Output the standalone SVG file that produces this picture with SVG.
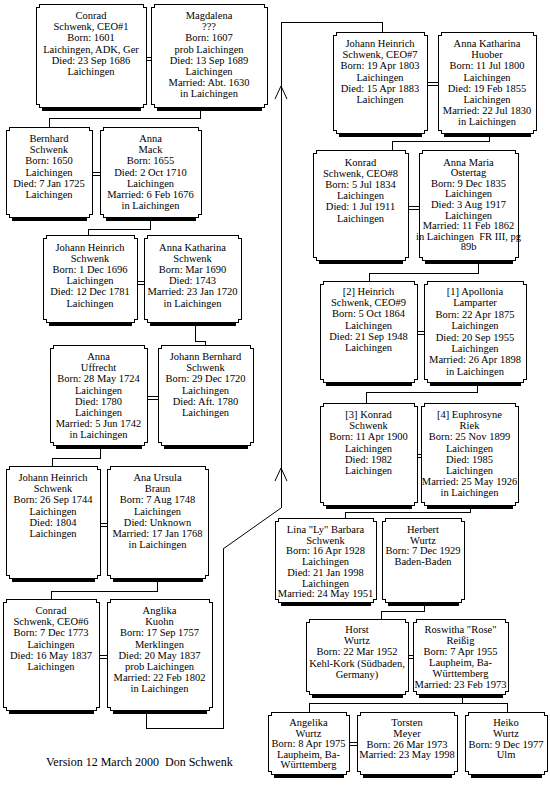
<svg xmlns="http://www.w3.org/2000/svg" width="550" height="810" viewBox="0 0 550 810">
<style>
.bx{fill:#fff;stroke:#000;stroke-width:1;shape-rendering:crispEdges}
.sh{fill:#000;shape-rendering:crispEdges}
.ln{fill:none;stroke:#000;stroke-width:1;shape-rendering:crispEdges}
.ar{fill:none;stroke:#000;stroke-width:1}
text{font-family:"Liberation Serif","Times New Roman",serif;font-size:10.5px;fill:#000;text-anchor:middle}
.ver{font-size:12px;text-anchor:start}
</style>
<rect width="550" height="810" fill="#fff"/>
<g id="connectors">
<path class="ln" d="M200 107V118H49V127"/>
<path class="ln" d="M150 217V229H88V235"/>
<path class="ln" d="M195 322V341H205V345"/>
<path class="ln" d="M100 445V458H52V466"/>
<path class="ln" d="M157 578V591H51V599"/>
<path class="ln" d="M146 710V728H223V549"/>
<path class="ar" d="M223 549L281 508"/>
<path class="ln" d="M281 508V22H382V32"/>
<path class="ar" d="M275 99L281 86L287 99M275 481L281 468L287 481"/>
<path class="ln" d="M489 133V141H392V150"/>
<path class="ln" d="M478 260V273H369V281"/>
<path class="ln" d="M477 382V392H366V403"/>
<path class="ln" d="M470 505V512H345V518"/>
<path class="ln" d="M424 602V611H381V619"/>
<path class="ln" d="M462 694V703M309 712V703H507V712"/>
<path class="ln" d="M146 57H151M146 60H151M92 172H100M92 175H100M137 281H144M137 284H144M147 396H158M147 399H158M100 523H107M100 526H107M99 655H107M99 658H107M427 82H438M427 85H438M408 206H419M408 209H419M417 331H424M417 334H424M417 454H421M417 457H421M408 655H413M408 658H413M349 742H357M349 745H357"/>
</g>
<g id="n1"><rect class="sh" x="42" y="107" width="99" height="4"/><path class="bx" d="M39 4H143V7H146V104H143V107H39V104H36V7H39Z"/>
<text x="91" y="19"><tspan x="91">Conrad</tspan><tspan x="91" dy="11.2">Schwenk, CEO#1</tspan><tspan x="91" dy="11.2">Born: 1601</tspan><tspan x="91" dy="11.2">Laichingen, ADK, Ger</tspan><tspan x="91" dy="11.2">Died: 23 Sep 1686</tspan><tspan x="91" dy="11.2">Laichingen</tspan></text></g>
<g id="n2"><rect class="sh" x="157" y="107" width="105" height="4"/><path class="bx" d="M154 4H264V7H267V104H264V107H154V104H151V7H154Z"/>
<text x="209" y="19"><tspan x="209">Magdalena</tspan><tspan x="209" dy="11.2">???</tspan><tspan x="209" dy="11.2">Born: 1607</tspan><tspan x="209" dy="11.2">prob Laichingen</tspan><tspan x="209" dy="11.2">Died: 13 Sep 1689</tspan><tspan x="209" dy="11.2">Laichingen</tspan><tspan x="209" dy="11.2">Married: Abt. 1630</tspan><tspan x="209" dy="11.2">in Laichingen</tspan></text></g>
<g id="n3"><rect class="sh" x="12" y="217" width="75" height="4"/><path class="bx" d="M9 127H89V130H92V214H89V217H9V214H6V130H9Z"/>
<text x="49" y="142"><tspan x="49">Bernhard</tspan><tspan x="49" dy="11.2">Schwenk</tspan><tspan x="49" dy="11.2">Born: 1650</tspan><tspan x="49" dy="11.2">Laichingen</tspan><tspan x="49" dy="11.2">Died: 7 Jan 1725</tspan><tspan x="49" dy="11.2">Laichingen</tspan></text></g>
<g id="n4"><rect class="sh" x="106" y="217" width="90" height="4"/><path class="bx" d="M103 127H198V130H201V214H198V217H103V214H100V130H103Z"/>
<text x="150.5" y="142"><tspan x="150.5">Anna</tspan><tspan x="150.5" dy="11.2">Mack</tspan><tspan x="150.5" dy="11.2">Born: 1655</tspan><tspan x="150.5" dy="11.2">Died: 2 Oct 1710</tspan><tspan x="150.5" dy="11.2">Laichingen</tspan><tspan x="150.5" dy="11.2">Married: 6 Feb 1676</tspan><tspan x="150.5" dy="11.2">in Laichingen</tspan></text></g>
<g id="n5"><rect class="sh" x="49" y="322" width="83" height="4"/><path class="bx" d="M46 235H134V238H137V319H134V322H46V319H43V238H46Z"/>
<text x="90" y="250.5"><tspan x="90">Johann Heinrich</tspan><tspan x="90" dy="11.2">Schwenk</tspan><tspan x="90" dy="11.2">Born: 1 Dec 1696</tspan><tspan x="90" dy="11.2">Laichingen</tspan><tspan x="90" dy="11.2">Died: 12 Dec 1781</tspan><tspan x="90" dy="11.2">Laichingen</tspan></text></g>
<g id="n6"><rect class="sh" x="150" y="322" width="86" height="4"/><path class="bx" d="M147 235H238V238H241V319H238V322H147V319H144V238H147Z"/>
<text x="192.5" y="250.5"><tspan x="192.5">Anna Katharina</tspan><tspan x="192.5" dy="11.2">Schwenk</tspan><tspan x="192.5" dy="11.2">Born: Mar 1690</tspan><tspan x="192.5" dy="11.2">Died: 1743</tspan><tspan x="192.5" dy="11.2">Married: 23 Jan 1720</tspan><tspan x="192.5" dy="11.2">in Laichingen</tspan></text></g>
<g id="n7"><rect class="sh" x="56" y="445" width="86" height="4"/><path class="bx" d="M53 345H144V348H147V442H144V445H53V442H50V348H53Z"/>
<text x="98.5" y="360"><tspan x="98.5">Anna</tspan><tspan x="98.5" dy="11.2">Uffrecht</tspan><tspan x="98.5" dy="11.2">Born: 28 May 1724</tspan><tspan x="98.5" dy="11.2">Laichingen</tspan><tspan x="98.5" dy="11.2">Died: 1780</tspan><tspan x="98.5" dy="11.2">Laichingen</tspan><tspan x="98.5" dy="11.2">Married: 5 Jun 1742</tspan><tspan x="98.5" dy="11.2">in Laichingen</tspan></text></g>
<g id="n8"><rect class="sh" x="164" y="445" width="84" height="4"/><path class="bx" d="M161 345H250V348H253V442H250V445H161V442H158V348H161Z"/>
<text x="205.5" y="360"><tspan x="205.5">Johann Bernhard</tspan><tspan x="205.5" dy="11.2">Schwenk</tspan><tspan x="205.5" dy="11.2">Born: 29 Dec 1720</tspan><tspan x="205.5" dy="11.2">Laichingen</tspan><tspan x="205.5" dy="11.2">Died: Aft. 1780</tspan><tspan x="205.5" dy="11.2">Laichingen</tspan></text></g>
<g id="n9"><rect class="sh" x="12" y="578" width="83" height="4"/><path class="bx" d="M9 466H97V469H100V575H97V578H9V575H6V469H9Z"/>
<text x="53" y="481"><tspan x="53">Johann Heinrich</tspan><tspan x="53" dy="11.2">Schwenk</tspan><tspan x="53" dy="11.2">Born: 26 Sep 1744</tspan><tspan x="53" dy="11.2">Laichingen</tspan><tspan x="53" dy="11.2">Died: 1804</tspan><tspan x="53" dy="11.2">Laichingen</tspan></text></g>
<g id="n10"><rect class="sh" x="113" y="578" width="90" height="4"/><path class="bx" d="M110 466H205V469H208V575H205V578H110V575H107V469H110Z"/>
<text x="157.5" y="481"><tspan x="157.5">Ana Ursula</tspan><tspan x="157.5" dy="11.2">Braun</tspan><tspan x="157.5" dy="11.2">Born: 7 Aug 1748</tspan><tspan x="157.5" dy="11.2">Laichingen</tspan><tspan x="157.5" dy="11.2">Died: Unknown</tspan><tspan x="157.5" dy="11.2">Married: 17 Jan 1768</tspan><tspan x="157.5" dy="11.2">in Laichingen</tspan></text></g>
<g id="n11"><rect class="sh" x="9" y="710" width="85" height="4"/><path class="bx" d="M6 599H96V602H99V707H96V710H6V707H3V602H6Z"/>
<text x="51" y="614"><tspan x="51">Conrad</tspan><tspan x="51" dy="11.2">Schwenk, CEO#6</tspan><tspan x="51" dy="11.2">Born: 7 Dec 1773</tspan><tspan x="51" dy="11.2">Laichingen</tspan><tspan x="51" dy="11.2">Died: 16 May 1837</tspan><tspan x="51" dy="11.2">Laichingen</tspan></text></g>
<g id="n12"><rect class="sh" x="113" y="710" width="94" height="4"/><path class="bx" d="M110 599H209V602H212V707H209V710H110V707H107V602H110Z"/>
<text x="159.5" y="614"><tspan x="159.5">Anglika</tspan><tspan x="159.5" dy="11.2">Kuohn</tspan><tspan x="159.5" dy="11.2">Born: 17 Sep 1757</tspan><tspan x="159.5" dy="11.2">Merklingen</tspan><tspan x="159.5" dy="11.2">Died: 20 May 1837</tspan><tspan x="159.5" dy="11.2">prob Laichingen</tspan><tspan x="159.5" dy="11.2">Married: 22 Feb 1802</tspan><tspan x="159.5" dy="11.2">in Laichingen</tspan></text></g>
<g id="n13"><rect class="sh" x="339" y="133" width="83" height="4"/><path class="bx" d="M336 32H424V35H427V130H424V133H336V130H333V35H336Z"/>
<text x="380" y="47"><tspan x="380">Johann Heinrich</tspan><tspan x="380" dy="11.2">Schwenk, CEO#7</tspan><tspan x="380" dy="11.2">Born: 19 Apr 1803</tspan><tspan x="380" dy="11.2">Laichingen</tspan><tspan x="380" dy="11.2">Died: 15 Apr 1883</tspan><tspan x="380" dy="11.2">Laichingen</tspan></text></g>
<g id="n14"><rect class="sh" x="444" y="133" width="87" height="4"/><path class="bx" d="M441 32H533V35H536V130H533V133H441V130H438V35H441Z"/>
<text x="487" y="47"><tspan x="487">Anna Katharina</tspan><tspan x="487" dy="11.2">Huober</tspan><tspan x="487" dy="11.2">Born: 11 Jul 1800</tspan><tspan x="487" dy="11.2">Laichingen</tspan><tspan x="487" dy="11.2">Died: 19 Feb 1855</tspan><tspan x="487" dy="11.2">Laichingen</tspan><tspan x="487" dy="11.2">Married: 22 Jul 1830</tspan><tspan x="487" dy="11.2">in Laichingen</tspan></text></g>
<g id="n15"><rect class="sh" x="319" y="260" width="84" height="4"/><path class="bx" d="M316 150H405V153H408V257H405V260H316V257H313V153H316Z"/>
<text x="360.5" y="165.5"><tspan x="360.5">Konrad</tspan><tspan x="360.5" dy="11.2">Schwenk, CEO#8</tspan><tspan x="360.5" dy="11.2">Born: 5 Jul 1834</tspan><tspan x="360.5" dy="11.2">Laichingen</tspan><tspan x="360.5" dy="11.2">Died: 1 Jul 1911</tspan><tspan x="360.5" dy="11.2">Laichingen</tspan></text></g>
<g id="n16"><rect class="sh" x="425" y="260" width="88" height="4"/><path class="bx" d="M422 150H515V153H518V257H515V260H422V257H419V153H422Z"/>
<text x="468.5" y="165.5" xml:space="preserve"><tspan x="468.5">Anna Maria</tspan><tspan x="468.5" dy="10.6">Ostertag</tspan><tspan x="468.5" dy="10.6">Born: 9 Dec 1835</tspan><tspan x="468.5" dy="10.6">Laichingen</tspan><tspan x="468.5" dy="10.6">Died: 3 Aug 1917</tspan><tspan x="468.5" dy="10.6">Laichingen</tspan><tspan x="468.5" dy="10.6">Married: 11 Feb 1862</tspan><tspan x="468.5" dy="10.6">in Laichingen  FR III, pg</tspan><tspan x="468.5" dy="10.6">89b</tspan></text></g>
<g id="n17"><rect class="sh" x="326" y="382" width="86" height="4"/><path class="bx" d="M323 281H414V284H417V379H414V382H323V379H320V284H323Z"/>
<text x="368.5" y="295"><tspan x="368.5">[2] Heinrich</tspan><tspan x="368.5" dy="11.2">Schwenk, CEO#9</tspan><tspan x="368.5" dy="11.2">Born: 5 Oct 1864</tspan><tspan x="368.5" dy="11.2">Laichingen</tspan><tspan x="368.5" dy="11.2">Died: 21 Sep 1948</tspan><tspan x="368.5" dy="11.2">Laichingen</tspan></text></g>
<g id="n18"><rect class="sh" x="430" y="382" width="91" height="4"/><path class="bx" d="M427 281H523V284H526V379H523V382H427V379H424V284H427Z"/>
<text x="475" y="295"><tspan x="475">[1] Apollonia</tspan><tspan x="475" dy="11.4">Lamparter</tspan><tspan x="475" dy="11.4">Born: 22 Apr 1875</tspan><tspan x="475" dy="11.4">Laichingen</tspan><tspan x="475" dy="11.4">Died: 20 Sep 1955</tspan><tspan x="475" dy="11.4">Laichingen</tspan><tspan x="475" dy="11.4">Married: 26 Apr 1898</tspan><tspan x="475" dy="11.4">in Laichingen</tspan></text></g>
<g id="n19"><rect class="sh" x="326" y="505" width="86" height="4"/><path class="bx" d="M323 403H414V406H417V502H414V505H323V502H320V406H323Z"/>
<text x="368.5" y="418"><tspan x="368.5">[3] Konrad</tspan><tspan x="368.5" dy="11.2">Schwenk</tspan><tspan x="368.5" dy="11.2">Born: 11 Apr 1900</tspan><tspan x="368.5" dy="11.2">Laichingen</tspan><tspan x="368.5" dy="11.2">Died: 1982</tspan><tspan x="368.5" dy="11.2">Laichingen</tspan></text></g>
<g id="n20"><rect class="sh" x="427" y="505" width="86" height="4"/><path class="bx" d="M424 403H515V406H518V502H515V505H424V502H421V406H424Z"/>
<text x="469.5" y="418"><tspan x="469.5">[4] Euphrosyne</tspan><tspan x="469.5" dy="11.2">Riek</tspan><tspan x="469.5" dy="11.2">Born: 25 Nov 1899</tspan><tspan x="469.5" dy="11.2">Laichingen</tspan><tspan x="469.5" dy="11.2">Died: 1985</tspan><tspan x="469.5" dy="11.2">Laichingen</tspan><tspan x="469.5" dy="11.2">Married: 25 May 1926</tspan><tspan x="469.5" dy="11.2">in Laichingen</tspan></text></g>
<g id="n21"><rect class="sh" x="281" y="602" width="90" height="4"/><path class="bx" d="M278 518H373V521H376V599H373V602H278V599H275V521H278Z"/>
<text x="325.5" y="533"><tspan x="325.5">Lina "Ly" Barbara</tspan><tspan x="325.5" dy="10.7">Schwenk</tspan><tspan x="325.5" dy="10.7">Born: 16 Apr 1928</tspan><tspan x="325.5" dy="10.7">Laichingen</tspan><tspan x="325.5" dy="10.7">Died: 21 Jan 1998</tspan><tspan x="325.5" dy="10.7">Laichingen</tspan><tspan x="325.5" dy="10.7">Married: 24 May 1951</tspan></text></g>
<g id="n22"><rect class="sh" x="388" y="602" width="71" height="4"/><path class="bx" d="M385 518H461V521H464V599H461V602H385V599H382V521H385Z"/>
<text x="423" y="533"><tspan x="423">Herbert</tspan><tspan x="423" dy="10.7">Wurtz</tspan><tspan x="423" dy="10.7">Born: 7 Dec 1929</tspan><tspan x="423" dy="10.7">Baden-Baden</tspan></text></g>
<g id="n23"><rect class="sh" x="312" y="694" width="91" height="4"/><path class="bx" d="M309 619H405V622H408V691H405V694H309V691H306V622H309Z"/>
<text x="357" y="633"><tspan x="357">Horst</tspan><tspan x="357" dy="11.2">Wurtz</tspan><tspan x="357" dy="11.2">Born: 22 Mar 1952</tspan><tspan x="357" dy="11.2">Kehl-Kork (Südbaden,</tspan><tspan x="357" dy="11.2">Germany)</tspan></text></g>
<g id="n24"><rect class="sh" x="419" y="694" width="84" height="4"/><path class="bx" d="M416 619H505V622H508V691H505V694H416V691H413V622H416Z"/>
<text x="460.5" y="633"><tspan x="460.5">Roswitha "Rose"</tspan><tspan x="460.5" dy="10.9">Reißig</tspan><tspan x="460.5" dy="10.9">Born: 7 Apr 1955</tspan><tspan x="460.5" dy="10.9">Laupheim, Ba-</tspan><tspan x="460.5" dy="10.9">Württemberg</tspan><tspan x="460.5" dy="10.9">Married: 23 Feb 1973</tspan></text></g>
<g id="n25"><rect class="sh" x="274" y="774" width="70" height="4"/><path class="bx" d="M271 712H346V715H349V771H346V774H271V771H268V715H271Z"/>
<text x="308.5" y="726"><tspan x="308.5">Angelika</tspan><tspan x="308.5" dy="10.6">Wurtz</tspan><tspan x="308.5" dy="10.6">Born: 8 Apr 1975</tspan><tspan x="308.5" dy="10.6">Laupheim, Ba-</tspan><tspan x="308.5" dy="10.6">Württemberg</tspan></text></g>
<g id="n26"><rect class="sh" x="363" y="774" width="89" height="4"/><path class="bx" d="M360 712H454V715H457V771H454V774H360V771H357V715H360Z"/>
<text x="407" y="726"><tspan x="407">Torsten</tspan><tspan x="407" dy="10.8">Meyer</tspan><tspan x="407" dy="10.8">Born: 26 Mar 1973</tspan><tspan x="407" dy="10.8">Married: 23 May 1998</tspan></text></g>
<g id="n27"><rect class="sh" x="471" y="774" width="71" height="4"/><path class="bx" d="M468 712H544V715H547V771H544V774H468V771H465V715H468Z"/>
<text x="506" y="726"><tspan x="506">Heiko</tspan><tspan x="506" dy="10.8">Wurtz</tspan><tspan x="506" dy="10.8">Born: 9 Dec 1977</tspan><tspan x="506" dy="10.8">Ulm</tspan></text></g>
<text class="ver" x="46" y="766" xml:space="preserve">Version 12 March 2000  Don Schwenk</text>
</svg>
